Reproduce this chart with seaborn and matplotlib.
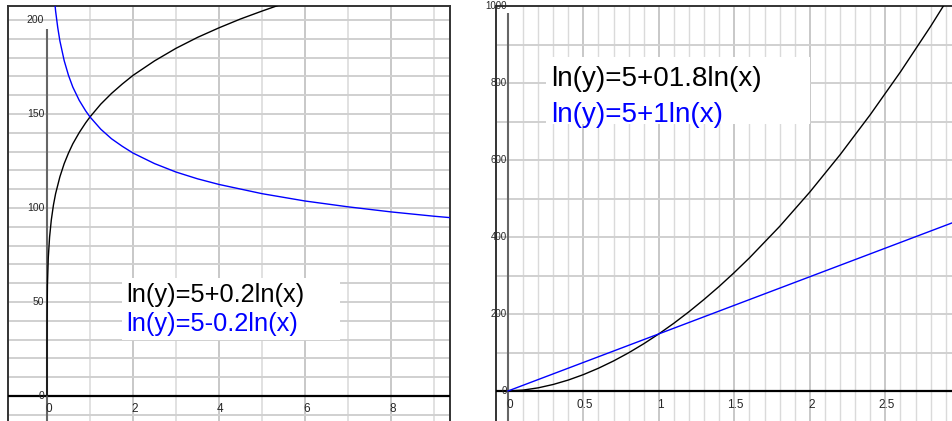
import numpy as np
import pandas as pd
import matplotlib
matplotlib.use("Agg")
import matplotlib.pyplot as plt
import seaborn as sns
from matplotlib.patches import Rectangle

# values (y in plotted units)
# left panel: ln(y)=5+0.2ln(x) (black) and ln(y)=5-0.2ln(x) (blue)
up_x = [0, 0.00001, 0.0002, 0.002, 0.01, 0.03, 0.06, 0.1, 0.15, 0.2, 0.3, 0.4, 0.5, 0.6,
        0.75, 0.9, 1, 1.25, 1.5, 1.75, 2, 2.5, 3, 3.5, 4, 4.5, 5, 5.5, 6]
up_y = [0, 14.8, 27.0, 42.8, 59.1, 73.6, 84.5, 93.6, 101.6, 107.6, 116.6, 123.6, 129.2, 134.1,
        140.1, 145.3, 148.4, 155.2, 160.9, 165.9, 170.5, 178.2, 184.9, 190.7, 195.8, 200.5,
        204.7, 208.7, 212.4]
down_x = [0.15, 0.2, 0.25, 0.3, 0.4, 0.5, 0.6, 0.75, 0.9, 1, 1.25, 1.5, 1.75, 2, 2.5, 3,
          3.5, 4, 5, 6, 7, 8, 9, 9.5]
down_y = [216.9, 204.7, 195.9, 188.8, 178.3, 170.5, 164.3, 157.2, 151.6, 148.4, 141.9,
          136.8, 132.8, 129.2, 123.6, 119.1, 115.5, 112.5, 107.6, 103.7, 100.6, 97.9, 95.6, 94.6]
left_xticks = [0, 2, 4, 6, 8]
left_yticks = [0, 50, 100, 150, 200]
left_labels = ["ln(y)=5+0.2ln(x)", "ln(y)=5-0.2ln(x)"]

# right panel: ln(y)=5+1.8ln(x) (black) and ln(y)=5+1ln(x) (blue)
pow_x = [0, 0.1, 0.2, 0.3, 0.4, 0.5, 0.6, 0.7, 0.8, 0.9, 1.0, 1.1, 1.2, 1.3, 1.4, 1.5,
         1.6, 1.8, 2.0, 2.2, 2.4, 2.6, 2.8, 3.0]
pow_y = [0, 2.35, 8.19, 17.0, 28.5, 42.6, 59.2, 78.1, 99.3, 122.8, 148.4, 176.2, 206.1,
         238.1, 271.9, 307.9, 345.8, 427.5, 516.8, 613.5, 717.6, 828.7, 947.0, 1072.2]
lin_x = [0, 1, 2, 3]
lin_y = [0, 148.4, 296.8, 445.2]
right_xticks = [0, 0.5, 1, 1.5, 2, 2.5]
right_xticklabels = ["0", "0.5", "1", "1.5", "2", "2.5"]
right_yticks = [0, 200, 400, 600, 800, 1000]
right_labels = ["ln(y)=5+01.8ln(x)", "ln(y)=5+1ln(x)"]

sns.set_style("white")
plt.rcParams["font.family"] = ["Liberation Sans", "DejaVu Sans"]

fig = plt.figure(figsize=(9.52, 4.21), dpi=100)
ax1 = fig.add_axes([8 / 952, 0, 442 / 952, 415 / 421])
ax2 = fig.add_axes([496 / 952, 0, 458 / 952, 415 / 421])


def setup(ax, xlim, ylim, xmajor, xminor, ystep, ytop, minor_color, minor_lw):
    ax.set_xticks(xmajor)
    ax.set_xticks(xminor, minor=True)
    ax.set_yticks(np.arange(-ystep, ylim[1], ystep))
    ax.set_xlim(*xlim)
    ax.set_ylim(*ylim)
    ax.grid(True, which="major", axis="x", color="#c8c8c8", lw=1.4)
    ax.grid(True, which="minor", axis="x", color=minor_color, lw=minor_lw)
    ax.grid(True, which="major", axis="y", color="#d0d0d0", lw=1.4)
    ax.tick_params(which="both", length=0, labelbottom=False, labelleft=False)
    for s in ["left", "top", "right"]:
        ax.spines[s].set_color("#333333")
        ax.spines[s].set_linewidth(1.4)
    ax.spines["bottom"].set_visible(False)
    ax.axhline(0, color="black", lw=1.6, zorder=3)
    ax.vlines(0, ylim[0], ytop, color="#666666", lw=1.5, zorder=3)


# left panel
setup(ax1, (-0.907, 9.372), (-13.3, 207.4), np.arange(2, 10, 2), np.arange(1, 10, 1),
      10, 195, "#dedede", 1.3)
df_up = pd.DataFrame({"x": up_x, "y": up_y})
df_down = pd.DataFrame({"x": down_x, "y": down_y})
sns.lineplot(data=df_up, x="x", y="y", color="black", lw=1.0, ax=ax1, zorder=4)
sns.lineplot(data=df_down, x="x", y="y", color="#0000ff", lw=1.0, ax=ax1, zorder=4)
ax1.set_xlabel("")
ax1.set_ylabel("")
for t in left_xticks:
    ax1.annotate(str(t), (t, 0), xytext=(1, -5), textcoords="offset points",
                 ha="center", va="top", fontsize=8.5, zorder=5)
for t in left_yticks:
    ax1.annotate(str(t), (0, t), xytext=(-2, 0), textcoords="offset points",
                 ha="right", va="center", fontsize=7.5, zorder=5)
ax1.add_patch(Rectangle((0.258, 0.195), 0.493, 0.15, transform=ax1.transAxes,
                        facecolor="white", edgecolor="none", zorder=3.5))
ax1.text(0.267, 0.287, left_labels[0], transform=ax1.transAxes, fontsize=18.3,
         color="black", va="baseline", ha="left", zorder=6)
ax1.text(0.267, 0.217, left_labels[1], transform=ax1.transAxes, fontsize=18.3,
         color="#0000ff", va="baseline", ha="left", zorder=6)

# right panel
setup(ax2, (-0.079, 2.955), (-77.9, 1000), np.arange(0.5, 3, 0.5), np.arange(0.1, 3, 0.1),
      100, 982, "#dadada", 1.0)
df_pow = pd.DataFrame({"x": pow_x, "y": pow_y})
df_lin = pd.DataFrame({"x": lin_x, "y": lin_y})
sns.lineplot(data=df_pow, x="x", y="y", color="black", lw=1.0, ax=ax2, zorder=4)
sns.lineplot(data=df_lin, x="x", y="y", color="#0000ff", lw=1.0, ax=ax2, zorder=4)
ax2.set_xlabel("")
ax2.set_ylabel("")
for t, lab in zip(right_xticks, right_xticklabels):
    ax2.annotate(lab, (t, 0), xytext=(1, -6), textcoords="offset points",
                 ha="center", va="top", fontsize=8.5, zorder=5)
for t in right_yticks:
    ax2.annotate(str(t), (0, t), xytext=(-1, 0), textcoords="offset points",
                 ha="right", va="center", fontsize=7, zorder=5, annotation_clip=False)
ax2.add_patch(Rectangle((0.11, 0.716), 0.575, 0.161, transform=ax2.transAxes,
                        facecolor="white", edgecolor="none", zorder=3.5))
ax2.text(0.1206, 0.807, right_labels[0], transform=ax2.transAxes, fontsize=20,
         color="black", va="baseline", ha="left", zorder=6)
ax2.text(0.1206, 0.7205, right_labels[1], transform=ax2.transAxes, fontsize=20,
         color="#0000ff", va="baseline", ha="left", zorder=6)

fig.savefig("out.png", dpi=100)
